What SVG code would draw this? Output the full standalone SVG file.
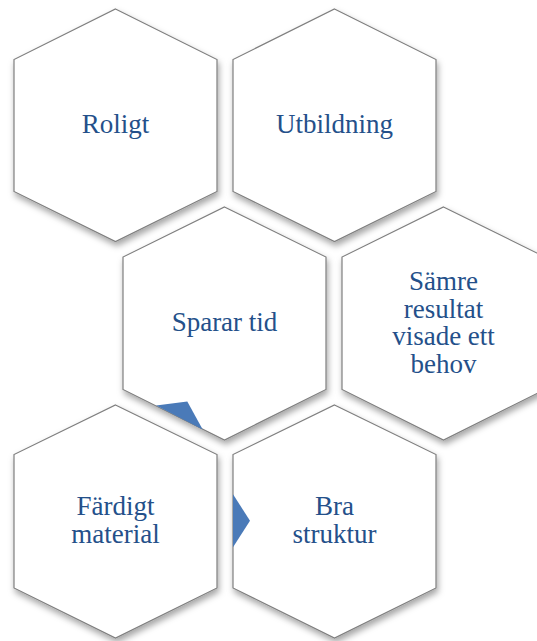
<svg xmlns="http://www.w3.org/2000/svg" width="537" height="641" viewBox="0 0 537 641">
<style>
.hex{fill:#ffffff;stroke:#7f7f7f;stroke-width:1.2;filter:url(#sh)}
.lbl{font-family:"Liberation Serif","Times New Roman",serif;font-size:27px;fill:#24508a;text-anchor:middle}
.tri{fill:#4a7ab8}
</style>
<defs>
<filter id="sh" x="-10%" y="-10%" width="130%" height="130%">
<feDropShadow dx="1.5" dy="4" stdDeviation="3" flood-color="#000" flood-opacity="0.35"/>
</filter>
</defs>
<rect width="537" height="641" fill="#ffffff"/>
<g id="n-roligt">
<polygon class="hex" points="115.5,9 217,59.5 217,191.5 115.5,241.5 14,191.5 14,59.5"/>
<text class="lbl" x="115.5" y="133.3">Roligt</text>
</g>
<g id="n-utbildning">
<polygon class="hex" points="334.5,9 436,59.5 436,191.5 334.5,241.5 233,191.5 233,59.5"/>
<text class="lbl" x="334.5" y="133.3">Utbildning</text>
</g>
<g id="n-sparar">
<polygon class="hex" points="224.5,207 326,257 326,389.5 224.5,440 123,389.5 123,257"/>
<text class="lbl" x="224.5" y="331">Sparar tid</text>
</g>
<g id="n-samre">
<polygon class="hex" points="443.5,207 545,257 545,389.5 443.5,440 342,389.5 342,257"/>
<text class="lbl" x="443.5" y="290">Sämre</text>
<text class="lbl" x="443.5" y="317.5">resultat</text>
<text class="lbl" x="443.5" y="345">visade ett</text>
<text class="lbl" x="443.5" y="373">behov</text>
</g>
<g id="n-fardigt">
<polygon class="hex" points="115.5,405 217,454.5 217,588 115.5,638 14,588 14,454.5"/>
<text class="lbl" x="115.5" y="515">Färdigt</text>
<text class="lbl" x="115.5" y="542.7">material</text>
</g>
<g id="n-bra">
<polygon class="hex" points="334.5,405 436,454.5 436,588 334.5,638 233,588 233,454.5"/>
<text class="lbl" x="334.5" y="515">Bra</text>
<text class="lbl" x="334.5" y="542.7">struktur</text>
</g>
<g id="connectors">
<polygon class="tri" points="156,405.5 187.3,401.5 202.7,429.5"/>
<polygon class="tri" points="233,494.3 250,520.7 233,547.3"/>
</g>
</svg>
